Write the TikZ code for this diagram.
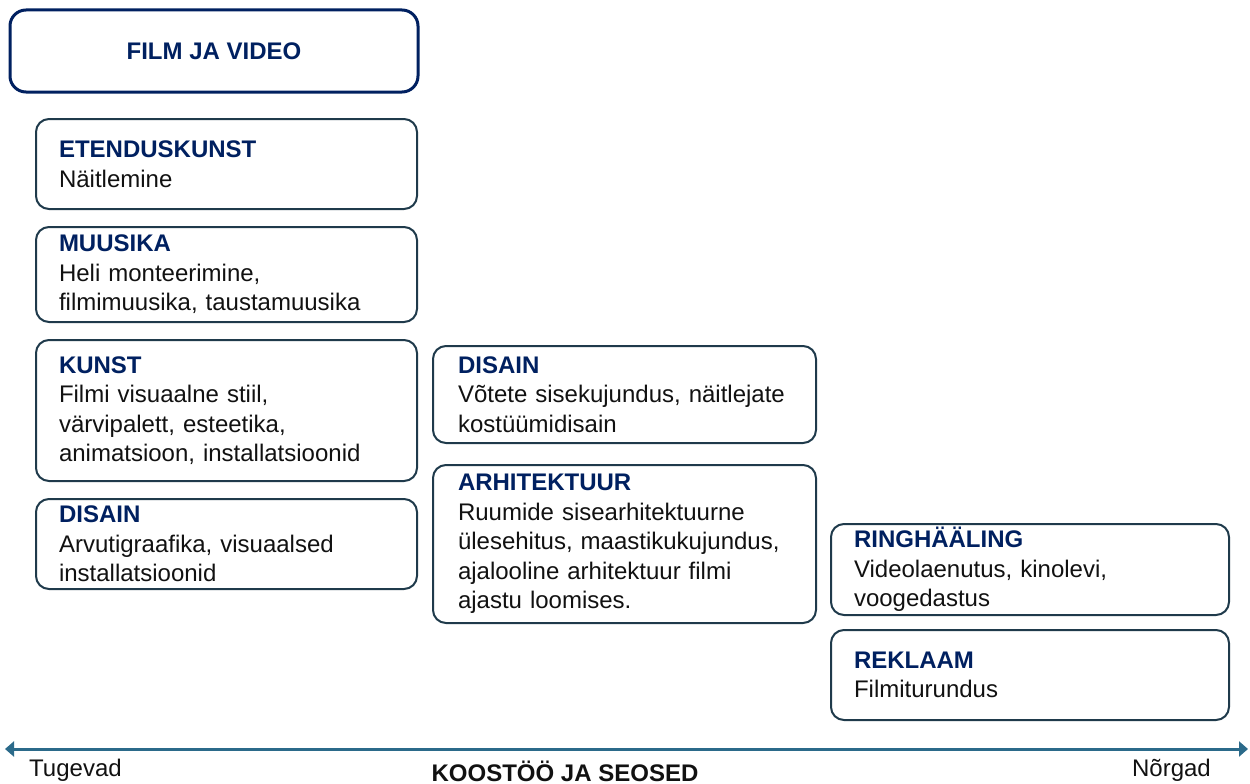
\documentclass[tikz,border=0pt]{standalone}
\usepackage{fontspec}
\setmainfont{Liberation Sans}
\usepackage{xcolor}
\usetikzlibrary{positioning,arrows.meta}
\definecolor{HeadNavy}{HTML}{002060}
\definecolor{BoxEdge}{HTML}{1F3A4B}
\definecolor{AxisBlue}{HTML}{2B6A8A}
\definecolor{TextBlack}{HTML}{111111}

\tikzset{
  field/.style={draw=BoxEdge, line width=2pt, rounded corners=13pt, align=left,
    inner xsep=23pt, inner ysep=0pt, outer sep=0pt, anchor=north west,
    font=\fontsize{24}{29.5}\selectfont, text=TextBlack},
  titlebox/.style={draw=HeadNavy, line width=3pt, rounded corners=16pt, anchor=north west,
    minimum width=408pt, minimum height=82pt, text=HeadNavy, outer sep=0pt,
    font=\fontsize{24}{29}\selectfont\bfseries},
  axislabel/.style={font=\fontsize{24}{29}\selectfont, text=TextBlack, inner sep=0pt},
}
\newcommand{\hd}[1]{\textcolor{HeadNavy}{\textbf{#1}}}

\begin{document}
\begin{tikzpicture}[x=1pt, y=-1pt]
		\useasboundingbox (0,0) rectangle (1250,784);
		
		% Title
		\node[titlebox] (film) at (10,10) {FILM JA VIDEO};
		
		% Left column
		\node[field, text width=335pt, minimum height=90pt] (etendus) at (36,119)
			{\hd{ETENDUSKUNST}\\N\"aitlemine};
		\node[field, text width=335pt, minimum height=95pt, below=18pt of etendus] (muusika)
			{\hd{MUUSIKA}\\Heli monteerimine,\\filmimuusika, taustamuusika};
		\node[field, text width=335pt, minimum height=141pt, below=18pt of muusika] (kunst)
			{\hd{KUNST}\\Filmi visuaalne stiil,\\v\"arvipalett, esteetika,\\animatsioon, installatsioonid};
		\node[field, text width=335pt, minimum height=90pt, below=18pt of kunst] (ldisain)
			{\hd{DISAIN}\\Arvutigraafika, visuaalsed\\installatsioonid};
		
		% Middle column
		\node[field, inner xsep=25pt, text width=333pt, minimum height=97pt] (mdisain) at (433,346)
			{\hd{DISAIN}\\V\~otete sisekujundus, n\"aitlejate\\kost\"u\"umidisain};
		\node[field, inner xsep=25pt, text width=333pt, minimum height=158pt, below=22pt of mdisain] (arhitekt)
			{\hd{ARHITEKTUUR}\\Ruumide sisearhitektuurne\\\"ulesehitus, maastikukujundus,\\ajalooline arhitektuur filmi\\ajastu loomises.};
		
		% Right column
		\node[field, text width=352pt, minimum height=91pt] (ring) at (831,524)
			{\hd{RINGH\"A\"ALING}\\Videolaenutus, kinolevi,\\voogedastus};
		\node[field, text width=352pt, minimum height=90pt, below=15pt of ring] (reklaam)
			{\hd{REKLAAM}\\Filmiturundus};
		
		% Axis
		\coordinate (axisL) at (5,749);
		\coordinate (axisR) at (1248,749);
		\draw[AxisBlue, line width=3pt, {Triangle[length=9pt,width=15pt]}-{Triangle[length=9pt,width=15pt]}] (axisL) -- (axisR);
		\node[axislabel, anchor=west] (strong) at (29,770) {Tugevad};
		\node[axislabel, font=\fontsize{24}{29}\selectfont\bfseries] (axtitle) at (565,771) {KOOST\"O\"O JA SEOSED};
		\node[axislabel, anchor=east] (weak) at (1211,770) {N\~orgad};
	\end{tikzpicture}
\end{document}
